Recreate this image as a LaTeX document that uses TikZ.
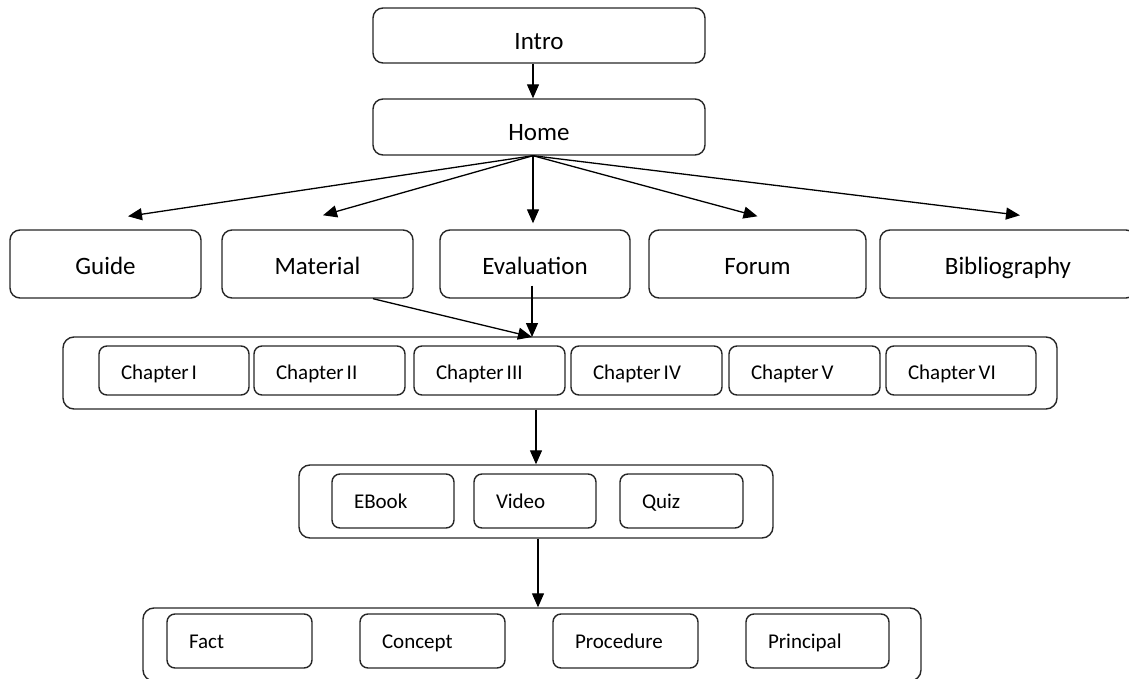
\documentclass[tikz,border=0pt]{standalone}
\usepackage{fontspec}
\setmainfont{Carlito}
\usetikzlibrary{arrows.meta,calc}
\tikzset{
  bigbox/.style={draw=black!85, line width=1.4pt, rounded corners=10pt, inner sep=0pt, text depth=0pt, font=\fontsize{25}{28}\selectfont},
  groupbox/.style={draw=black!85, line width=1.4pt, rounded corners=11pt, inner sep=0pt},
  smallbox/.style={draw=black!85, line width=1.4pt, rounded corners=8pt, inner xsep=22pt, inner ysep=0pt, align=left, text depth=0pt, font=\fontsize{21}{24}\selectfont},
  arr/.style={line width=1.3pt, -{Triangle[length=14pt,width=12pt]}},
}
% name, x1, y1, x2, y2, text height, text
\newcommand{\mygbox}[7]{%
  \node[bigbox, text height=#6, minimum width={#4-#2}, minimum height={#5-#3}] (#1) at ({(#2+#4)/2},{(#3+#5)/2}) {#7};}
\newcommand{\mysbox}[7]{%
  \node[smallbox, text height=#6, text width={#4-#2-44}, minimum height={#5-#3}] (#1) at ({(#2+#4)/2},{(#3+#5)/2}) {#7};}
\newcommand{\myobox}[5]{%
  \node[groupbox, minimum width={#4-#2}, minimum height={#5-#3}] (#1) at ({(#2+#4)/2},{(#3+#5)/2}) {};}
\newcommand{\ch}[1]{Chapter\hspace{0.14em}#1}
\begin{document}
\begin{tikzpicture}[x=1pt,y=-1pt]
\useasboundingbox (0,0) rectangle (1129,679);
% top
\mygbox{intro}{373}{8}{705}{63}{28pt}{Intro}
\mygbox{home}{373}{99}{705}{155}{27pt}{Home}
% second row
\mygbox{guide}{10}{230}{201}{298}{21pt}{Guide}
\mygbox{material}{222}{230}{413}{298}{21pt}{Material}
\mygbox{evaluation}{440}{230}{630}{298}{21pt}{Evaluation}
\mygbox{forum}{649}{230}{866}{298}{21pt}{Forum}
\mygbox{biblio}{880}{230}{1136}{298}{21pt}{Bibliography}
% chapters
\myobox{chapters}{63}{337}{1057}{409}
\mysbox{ch1}{99}{346}{249}{395}{17pt}{\ch{I}}
\mysbox{ch2}{254}{346}{405}{395}{17pt}{\ch{II}}
\mysbox{ch3}{414}{346}{565}{395}{17pt}{\ch{III}}
\mysbox{ch4}{571}{346}{722}{395}{17pt}{\ch{IV}}
\mysbox{ch5}{729}{346}{880}{395}{17pt}{\ch{V}}
\mysbox{ch6}{886}{346}{1036}{395}{17pt}{\ch{VI}}
% media
\myobox{media}{299}{465}{773}{538}
\mysbox{ebook}{332}{474}{454}{528}{14pt}{EBook}
\mysbox{video}{474}{474}{596}{528}{14pt}{Video}
\mysbox{quiz}{620}{474}{743}{528}{14pt}{Quiz}
% knowledge
\myobox{know}{143}{608}{921}{681}
\mysbox{fact}{167}{614}{312}{668}{14pt}{Fact}
\mysbox{concept}{360}{614}{505}{668}{14pt}{Concept}
\mysbox{procedure}{553}{614}{698}{668}{14pt}{Procedure}
\mysbox{principal}{746}{614}{889}{668}{14pt}{Principal}
% connectors
\coordinate (hs) at ([xshift=-6pt]home.south);
\draw[arr] ([xshift=-6pt]intro.south) -- ([xshift=-6pt]home.north);
\draw[arr] (hs) -- ([xshift=22.5pt,yshift=13pt]guide.north);
\draw[arr] (hs) -- ([xshift=5.5pt,yshift=14pt]material.north);
\draw[arr] (hs) -- ([xshift=-2pt,yshift=6pt]evaluation.north);
\draw[arr] (hs) -- ([yshift=13pt]forum.north);
\draw[arr] (hs) -- ([xshift=12pt,yshift=14pt]biblio.north);
\coordinate (cin) at (532,337);
\draw[arr] ([xshift=55.5pt]material.south) -- (cin);
\draw[arr] ([xshift=-3pt,yshift=13pt]evaluation.south) -- (cin);
\draw[arr] (chapters.south -| media.north) -- (media.north);
\draw[arr] ([xshift=2pt]media.south) -- ([xshift=2pt]media.south |- know.north);
\end{tikzpicture}
\end{document}
